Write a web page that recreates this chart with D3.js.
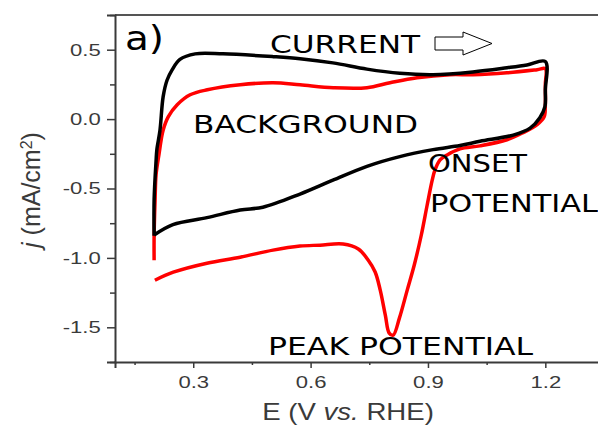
<!DOCTYPE html>
<html>
<head>
    <script src="https://d3js.org/d3.v7.min.js"></script>
    <style>
        body { margin: 0; background: #fff; }
        .tick text { font-family: "Liberation Sans", Arial, sans-serif; }
    </style>
</head>
<body>
    <div id="chart"></div>

    <script>
        // Cyclic voltammetry (E in V vs RHE, j in mA/cm2)
        var blackE = [0.2, 0.2, 0.205, 0.207, 0.215, 0.223, 0.233, 0.246, 0.266, 0.305, 0.376, 0.504, 0.573,
            0.657, 0.744, 0.828, 0.913, 1.015, 1.102, 1.153, 1.2,
            1.2, 1.199, 1.186, 1.161, 1.118, 1.033, 0.982, 0.913, 0.828, 0.744, 0.657, 0.573, 0.478, 0.42,
            0.335, 0.248, 0.2];
        var blackJ = [-0.84, -0.58, -0.3, -0.22, -0.08, 0.16, 0.28, 0.355, 0.43, 0.47, 0.47, 0.45, 0.435,
            0.405, 0.36, 0.33, 0.32, 0.34, 0.37, 0.39, 0.415,
            0.21, 0.09, 0.01, -0.065, -0.115, -0.16, -0.19, -0.22, -0.27, -0.34, -0.44, -0.54, -0.635, -0.655,
            -0.71, -0.76, -0.835];

        var redE = [0.2, 0.2, 0.2025, 0.205, 0.213, 0.218, 0.223, 0.236, 0.259, 0.292, 0.336, 0.42, 0.504,
            0.573, 0.658, 0.744, 0.803, 0.872, 0.956, 1.015, 1.102, 1.179, 1.2,
            1.2, 1.2, 1.197, 1.179, 1.143, 1.102, 1.033, 0.982, 0.949, 0.931, 0.918, 0.911, 0.898, 0.883,
            0.865, 0.847, 0.827, 0.811, 0.801, 0.791, 0.778, 0.765, 0.747, 0.722, 0.683, 0.624, 0.573,
            0.504, 0.42, 0.335, 0.249, 0.202];
        var redJ = [-1.017, -0.836, -0.58, -0.4, -0.244, -0.15, -0.08, 0.016, 0.103, 0.175, 0.211, 0.247, 0.262,
            0.247, 0.226, 0.226, 0.262, 0.298, 0.32, 0.32, 0.334, 0.356, 0.363,
            0.25, 0.1, 0.016, -0.04, -0.098, -0.149, -0.193, -0.215, -0.258, -0.294, -0.366, -0.438, -0.619, -0.835,
            -1.051, -1.232, -1.434, -1.557, -1.542, -1.412, -1.232, -1.102, -1.015, -0.936, -0.9, -0.908, -0.915,
            -0.944, -0.995, -1.038, -1.103, -1.161];

        var xTicks = [0.3, 0.6, 0.9, 1.2];
        var xMinor = [0.15, 0.45, 0.75, 1.05, 1.35];
        var yTicks = [-1.5, -1.0, -0.5, 0.0, 0.5];
        var yMinor = [-1.75, -1.25, -0.75, -0.25, 0.25, 0.75];

        var W = 598, H = 425;
        var plotLeft = 115, plotTop = 15, plotBottom = 362;

        var svg = d3.select("#chart").append("svg")
            .attr("width", W)
            .attr("height", H);

        var x = d3.scaleLinear().domain([0.1, 1.35]).range([plotLeft, plotLeft + 489]);
        var y = d3.scaleLinear().domain([-1.75, 0.75]).range([plotBottom, plotTop]);

        var axisColor = "#3a3a3a";

        // frame: top line
        svg.append("line")
            .attr("x1", plotLeft).attr("x2", W)
            .attr("y1", plotTop).attr("y2", plotTop)
            .attr("stroke", "#555").attr("stroke-width", 2);

        // y axis
        var gy = svg.append("g")
            .attr("transform", "translate(" + plotLeft + ",0)")
            .call(d3.axisLeft(y).tickValues(yTicks).tickSize(8).tickPadding(3)
                .tickFormat(function(d) { return d.toFixed(1); }));
        svg.append("g")
            .attr("transform", "translate(" + plotLeft + ",0)")
            .call(d3.axisLeft(y).tickValues(yMinor).tickSize(5).tickFormat(""))
            .select(".domain").remove();

        // x axis
        var gx = svg.append("g")
            .attr("transform", "translate(0," + plotBottom + ")")
            .call(d3.axisBottom(x).tickValues(xTicks).tickSize(6).tickPadding(8)
                .tickFormat(function(d) { return d.toFixed(1); }));
        svg.append("g")
            .attr("transform", "translate(0," + plotBottom + ")")
            .call(d3.axisBottom(x).tickValues(xMinor).tickSize(3).tickFormat(""))
            .select(".domain").remove();

        svg.selectAll(".domain").attr("stroke", axisColor).attr("stroke-width", 2);
        svg.selectAll(".tick line").attr("stroke", axisColor).attr("stroke-width", 1.5);
        svg.selectAll(".tick text")
            .attr("fill", axisColor)
            .style("font-size", "17px");
        gy.selectAll(".tick text").attr("transform", "scale(1.3,1)");
        gx.selectAll(".tick text").attr("transform", "scale(1.3,1)");

        // curves
        var line = d3.line()
            .x(function(d) { return x(d[0]); })
            .y(function(d) { return y(d[1]); })
            .curve(d3.curveCatmullRom.alpha(0.5));

        var redPts = d3.zip(redE, redJ);
        var blackPts = d3.zip(blackE, blackJ);

        svg.append("path")
            .attr("d", line(redPts))
            .attr("fill", "none")
            .attr("stroke", "#ff0000")
            .attr("stroke-width", 3.5)
            .attr("stroke-linejoin", "round");

        svg.append("path")
            .attr("d", line(blackPts))
            .attr("fill", "none")
            .attr("stroke", "#000")
            .attr("stroke-width", 3.5)
            .attr("stroke-linejoin", "round");

        // annotations
        var notes = [
            { t: "a)", x: 125, y: 50, w: 39, s: 34 },
            { t: "CURRENT", x: 270, y: 53, w: 150, s: 24 },
            { t: "BACKGROUND", x: 193, y: 133, w: 225, s: 24 },
            { t: "ONSET", x: 428, y: 172, w: 99, s: 24 },
            { t: "POTENTIAL", x: 430, y: 212, w: 168, s: 25 },
            { t: "PEAK POTENTIAL", x: 268, y: 355, w: 265, s: 24 }
        ];
        svg.selectAll(".note")
            .data(notes)
            .enter().append("text")
            .attr("class", "note")
            .attr("x", function(d) { return d.x; })
            .attr("y", function(d) { return d.y; })
            .attr("textLength", function(d) { return d.w; })
            .attr("lengthAdjust", "spacingAndGlyphs")
            .style("font-family", "'DejaVu Sans', sans-serif")
            .style("font-size", function(d) { return d.s + "px"; })
            .attr("fill", "#000")
            .text(function(d) { return d.t; });

        // hollow arrow next to CURRENT
        svg.append("path")
            .attr("d", "M435,37 L463,37 L463,32 L492,43.5 L463,55 L463,50 L435,50 Z")
            .attr("fill", "#fff")
            .attr("stroke", "#000")
            .attr("stroke-width", 1);

        // x axis title
        var xt = svg.append("text")
            .attr("transform", "translate(348,420) scale(1.2,1)")
            .attr("text-anchor", "middle")
            .style("font-family", "'Liberation Sans', Arial, sans-serif")
            .style("font-size", "23px")
            .attr("fill", axisColor);
        xt.append("tspan").text("E (V ");
        xt.append("tspan").style("font-style", "italic").text("vs.");
        xt.append("tspan").text(" RHE)");

        // y axis title
        var yt = svg.append("text")
            .attr("transform", "translate(40,190) rotate(-90)")
            .attr("text-anchor", "middle")
            .style("font-family", "'Liberation Sans', Arial, sans-serif")
            .style("font-size", "25px")
            .attr("fill", axisColor);
        yt.append("tspan").style("font-style", "italic").text("j");
        yt.append("tspan").text(" (mA/cm");
        yt.append("tspan").attr("baseline-shift", "super").style("font-size", "16px").text("2");
        yt.append("tspan").text(")");
    </script>
</body>
</html>
